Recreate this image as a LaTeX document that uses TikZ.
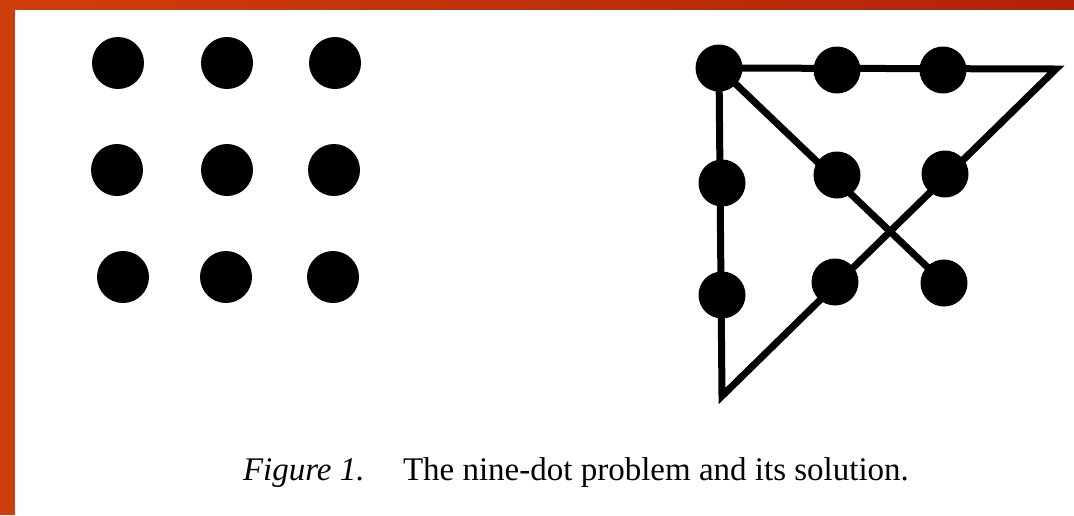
\documentclass[tikz,border=0pt]{standalone}
\usepackage{fontspec}
\setmainfont{Liberation Serif}
\usepackage{tikz}
\usetikzlibrary{positioning,calc}
\usepackage{xcolor}
\definecolor{frameorange}{RGB}{206,62,12}
\definecolor{framered}{RGB}{178,34,8}

\begin{document}
\begin{tikzpicture}[
  x=1pt, y=-1pt,
  every node/.style={inner sep=0pt, outer sep=0pt},
  bigdot/.style={circle, fill=black, minimum size=52pt},
  soldot/.style={circle, fill=black, minimum size=47pt},
  solline/.style={line width=7pt, line join=miter, line cap=butt},
  caption/.style={font=\fontsize{33}{38}\selectfont, anchor=base west}
]
\useasboundingbox (0,0) rectangle (1074,515);
% Frame
\fill[white] (0,0) rectangle (1074,515);
\fill[frameorange] (0,0) rectangle (15,515);
\shade[left color=frameorange, right color=framered] (0,0) rectangle (1074,9);
% Left: the nine dots
\node[bigdot] (l11) at (118,63) {};
\node[bigdot] (l12) at (227,63) {};
\node[bigdot] (l13) at (335,63) {};
\node[bigdot] (l21) at (117,170) {};
\node[bigdot] (l22) at (227,170) {};
\node[bigdot] (l23) at (334,170) {};
\node[bigdot] (l31) at (123,277) {};
\node[bigdot] (l32) at (226,277) {};
\node[bigdot] (l33) at (333,277) {};
% Right: the solution
\node[soldot] (r11) at (719,68) {};
\node[soldot] (r12) at (837,70) {};
\node[soldot] (r13) at (943,70) {};
\node[soldot] (r21) at (722,183) {};
\node[soldot] (r22) at (837,175) {};
\node[soldot] (r23) at (945,174) {};
\node[soldot] (r31) at (722,295) {};
\node[soldot] (r32) at (835,282) {};
\node[soldot] (r33) at (944,283) {};
\coordinate (apexR) at (1056,69);
\coordinate (apexB) at (722,396);
% Four straight lines
\draw[solline] (r33.center) -- (r11.center) -- (apexR) -- (apexB) -- (r11.center);
% Caption
\node[caption] (fig) at (243,480) {\itshape Figure 1.};
\node[caption] (cap) at (403,480) {The nine-dot problem and its solution.};
\end{tikzpicture}
\end{document}
